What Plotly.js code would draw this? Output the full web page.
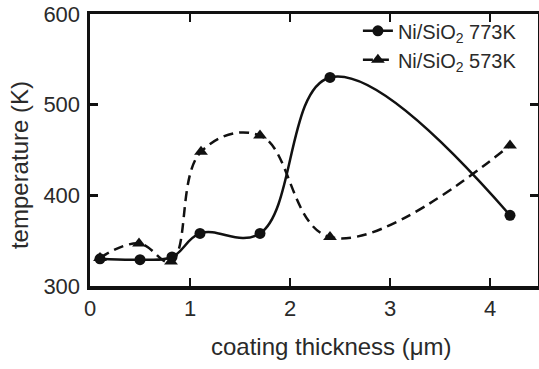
<!DOCTYPE html>
<html>
<head>
<meta charset="utf-8">
<script src="https://cdn.plot.ly/plotly-3.0.1.min.js"></script>
<style>html,body{margin:0;padding:0;background:#fff;}#chart{width:539px;height:369px;}</style>
</head>
<body>
<div id="chart"></div>
<script>
// coating thickness (µm)
const thickness773 = [0.1, 0.5, 0.82, 1.1, 1.7, 2.4, 4.2];
const temp773 = [330, 329, 332, 358, 358, 530, 378];
const thickness573 = [0.1, 0.49, 0.81, 1.11, 1.7, 2.4, 4.2];
const temp573 = [331, 347, 327, 448, 466, 354, 455];
const seriesNames = ["Ni/SiO<sub>2</sub> 773K", "Ni/SiO<sub>2</sub> 573K"];
const xTicks = [0, 1, 2, 3, 4];
const yTicks = [300, 400, 500, 600];
const xTitle = "coating thickness (μm)";
const yTitle = "temperature (K)";

const font = "Liberation Sans, Arial, Helvetica, sans-serif";
const traces = [
  {x: thickness773, y: temp773, name: seriesNames[0], mode: "lines+markers",
   line: {shape: "spline", smoothing: 1.15, color: "#111", width: 2.5},
   marker: {symbol: "circle", size: 11, color: "#111"}},
  {x: thickness573, y: temp573, name: seriesNames[1], mode: "lines+markers",
   line: {shape: "spline", smoothing: 1.15, color: "#111", width: 2.5, dash: "10px,6px"},
   marker: {symbol: "triangle-up", size: 12, color: "#111"}}
];
const axisCommon = {
  showgrid: false, zeroline: false, showline: true, linecolor: "#111", linewidth: 3.5,
  mirror: "ticks", ticks: "inside", ticklen: 8, tickwidth: 2.5, tickcolor: "#111",
  tickfont: {family: font, size: 22, color: "#2a2a2a"}
};
const layout = {
  width: 539, height: 369,
  margin: {l: 90, r: 1, t: 14, b: 83},
  paper_bgcolor: "#fff", plot_bgcolor: "#fff",
  showlegend: true,
  legend: {x: 0.598, y: 1.01, xanchor: "left", yanchor: "top", bgcolor: "rgba(0,0,0,0)",
           font: {family: font, size: 20, color: "#2a2a2a"}, tracegroupgap: 0, itemwidth: 30},
  xaxis: Object.assign({}, axisCommon, {range: [0, 4.48], tickvals: xTicks, ticklabelstandoff: 0}),
  yaxis: Object.assign({}, axisCommon, {range: [300, 600], tickvals: yTicks, ticklabelstandoff: 2}),
  annotations: [
    {text: xTitle, xref: "paper", yref: "paper", x: 0.54, y: -0.224, xanchor: "center", yanchor: "middle",
     showarrow: false, font: {family: font, size: 24, color: "#2a2a2a"}},
    {text: yTitle, xref: "paper", yref: "paper", x: -0.156, y: 0.445, xanchor: "center", yanchor: "middle",
     textangle: -90, showarrow: false, font: {family: font, size: 24, color: "#2a2a2a"}}
  ]
};
Plotly.newPlot("chart", traces, layout, {staticPlot: true, displayModeBar: false});
</script>
</body>
</html>
